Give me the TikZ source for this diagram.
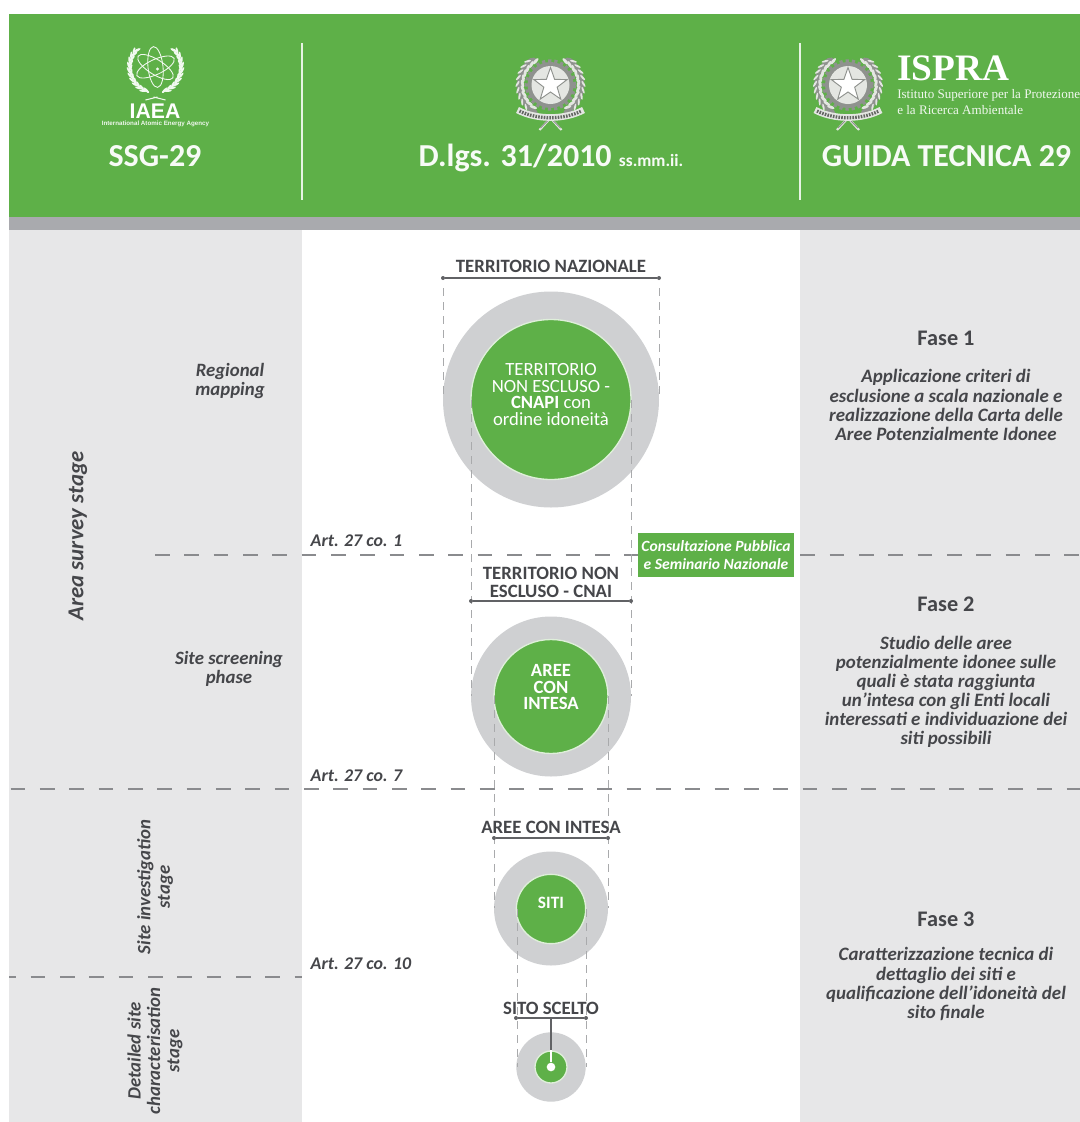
\documentclass[tikz,border=0pt]{standalone}
\usepackage{fontspec}
\usetikzlibrary{shapes.geometric}
\setmainfont{Carlito}
\newfontfamily\serif{Liberation Serif}
\newfontfamily\arial{Liberation Sans}
\definecolor{gv}{HTML}{5EB048}
\definecolor{barg}{HTML}{A9AAAE}
\definecolor{panel}{HTML}{E7E7E8}
\definecolor{ring}{HTML}{CFD0D2}
\definecolor{ink}{HTML}{45464A}
\definecolor{dash}{HTML}{8A8B8E}
\definecolor{dashl}{HTML}{A9AAAC}
\definecolor{emb}{HTML}{8F928E}
\definecolor{embl}{HTML}{E4E6E2}
\tikzset{
  outer/.style={circle,fill=ring,inner sep=0pt},
  inner/.style={circle,fill=gv,draw=white!80!gv,line width=1pt,inner sep=0pt},
  sep/.style={draw=dash,line width=1.1pt,dash pattern=on 11pt off 11pt},
  guide/.style={draw=dashl,line width=.7pt,dash pattern=on 6pt off 4.5pt},
  dim/.style={draw=ink!85,line width=1.1pt},
  dot/.style={circle,fill=ink!85,inner sep=0pt,minimum size=3pt},
  vsep/.style={draw=white!85!gv,line width=1.2pt},
  stage/.style={font=\fontsize{14.1}{14.6}\selectfont\bfseries\itshape,text=ink,align=center},
  art/.style={font=\fontsize{13.4}{14}\selectfont\bfseries\itshape,text=ink,anchor=west},
  ctitle/.style={font=\fontsize{14.1}{13.5}\selectfont\bfseries,text=ink,align=center},
  ctext/.style={text=white,align=center,inner sep=0pt},
  fase/.style={font=\fontsize{16.7}{17}\selectfont\bfseries,text=ink},
  fdesc/.style={font=\fontsize{14.2}{14.3}\selectfont\bfseries\itshape,text=ink,align=center},
  head/.style={font=\bfseries\fontsize{24}{24}\selectfont,text=white!95!gv,anchor=base,inner sep=0pt},
}
% radius, first, second, last angle, colour, half width, half length, tilt
\newcommand{\leafarc}[8]{%
  \foreach \a in {#2,#3,...,#4}{
    \fill[#5,rotate=\a,shift={(#1,0)},rotate=#8] (0,0) ellipse [x radius=#6,y radius=#7];
    \fill[#5,rotate=180-\a,shift={(#1,0)},rotate=-#8] (0,0) ellipse [x radius=#6,y radius=#7];
  }%
}
\newcommand{\emblem}[3]{% cx, cy, name
  \begin{scope}[shift={(#1,#2)},x=.75pt,y=.75pt]
    \leafarc{31}{128}{139}{238}{emb}{2.6}{5}{-18}
    \leafarc{28}{122}{133}{232}{embl}{1.5}{4}{18}
    \leafarc{33}{134}{145}{222}{embl}{1}{3.6}{-30}
    \draw[emb,line width=2.6pt,dash pattern=on 2.4pt off 2.2pt] (0,0) circle (24);
    \fill[emb] (0,0) circle (23);
    \fill[embl] (0,0) circle (19);
    \node[star,star points=5,star point ratio=2.5,minimum size=35*.75pt,inner sep=0pt,fill=white,draw=emb,line width=.7pt] (#3star) at (0,0) {};
    \draw[embl,line width=1.6pt] (0,-33) -- (-11,-45) (0,-33) -- (11,-45);
    \draw[emb,line width=.6pt] (0,-33) -- (-10,-43) (0,-33) -- (10,-43);
    \draw[embl,line width=5pt] (-33,-25) .. controls (-14,-35) and (14,-35) .. (33,-25);
    \draw[emb!70!black,line width=2.4pt,dash pattern=on 1.2pt off .9pt] (-31,-26) .. controls (-13,-35) and (13,-35) .. (31,-26);
  \end{scope}
}
\begin{document}
\begin{tikzpicture}[x=.75pt,y=-.75pt]
\useasboundingbox (0,0) rectangle (1080,1122);
\fill[white] (0,0) rectangle (1080,1122);
% bands
\fill[gv] (9,14) rectangle (1080,217);
\fill[barg] (9,217) rectangle (1080,230);
\fill[panel] (9,230) rectangle (302,1122);
\fill[panel] (800,230) rectangle (1080,1122);
\draw[vsep] (302,43) -- (302,200);
\draw[vsep] (800,43) -- (800,200);
% IAEA logo
\begin{scope}[shift={(155.5,67)},x=.75pt,y=.75pt]
  \leafarc{25}{138}{149}{255}{white!92!gv}{1.3}{4}{-22}
  \leafarc{27}{143}{154}{242}{white!92!gv}{1.1}{3.6}{22}
  \draw[white!92!gv,line width=.8pt] (-2,-30) -- (10,-33) (2,-30) -- (-10,-33);
  \foreach \r in {96,25,-32}{
    \draw[white!92!gv,line width=.65pt,rotate=\r] (0,0) ellipse [x radius=20.5,y radius=7.5];
  }
  \fill[white!92!gv] (2,-2) circle (1.6);
\end{scope}
\node[font=\arial\bfseries\fontsize{15.9}{16}\selectfont,text=white,inner sep=0pt] (iaea) at (155,111) {IAEA};
\node[font=\arial\bfseries\fontsize{4.67}{5}\selectfont,text=white!90!gv,inner sep=0pt] (iaeaname) at (155.5,124) {International Atomic Energy Agency};
\node[head] (ssg) at (155,166) {SSG-29};
% emblems
\emblem{550.5}{85}{em1}
\emblem{848}{85}{em2}
\node[head] (dlgs) at (551,166) {D.lgs. 31/2010 {\fontsize{13}{13}\selectfont ss.mm.ii.}};
\node[head] (guida) at (946.5,166) {GUIDA TECNICA 29};
\node[font=\serif\bfseries\fontsize{28}{28}\selectfont,text=white,anchor=base west,inner sep=0pt] (ispra) at (897,80) {ISPRA};
\node[font=\serif\fontsize{9.8}{11}\selectfont,text=white!90!gv,anchor=base west,inner sep=0pt] (ist1) at (897,98.5) {Istituto Superiore per la Protezione};
\node[font=\serif\fontsize{9.8}{11}\selectfont,text=white!90!gv,anchor=base west,inner sep=0pt] (ist2) at (897,114.5) {e la Ricerca Ambientale};
% separators
\coordinate (s1a) at (155,555); \coordinate (s1b) at (1080,555);
\coordinate (s2a) at (10.5,789); \coordinate (s2b) at (1080,789);
\coordinate (s3a) at (9,977); \coordinate (s3b) at (302,977);
\draw[sep] (s1a) -- (s1b);
\draw[sep] (s2a) -- (s2b);
\draw[sep,dash phase=5.7pt] (s3a) -- (s3b);
% circles
\node[outer,minimum size=162pt] (c1) at (551,399.5) {};
\node[inner,minimum size=120pt] (i1) at (551,399.5) {};
\node[ctext,font=\fontsize{14}{12.3}\selectfont] (i1t) at (551,394.5) {TERRITORIO\\NON ESCLUSO -\\\textbf{CNAPI} con\\ordine idoneità};
\node[outer,minimum size=120pt] (c2) at (551,696.5) {};
\node[inner,minimum size=85.5pt] (i2) at (551,696.5) {};
\node[ctext,font=\fontsize{14}{12.5}\selectfont\bfseries] (i2t) at (551,687) {AREE\\CON\\INTESA};
\node[outer,minimum size=85.5pt] (c3) at (551,908.5) {};
\node[inner,minimum size=52pt] (i3) at (551,909) {};
\node[ctext,font=\fontsize{13}{13}\selectfont\bfseries] (i3t) at (551,903) {SITI};
\node[outer,minimum size=52pt] (c4) at (551,1067) {};
\node[inner,minimum size=24pt] (i4) at (551,1067) {};
\node[circle,fill=white,inner sep=0pt,minimum size=6.5pt] (i4dot) at (551,1067) {};
% guides
\coordinate (g1a) at (443,288); \coordinate (g1b) at (443,400);
\coordinate (g2a) at (659,288); \coordinate (g2b) at (659,400);
\coordinate (g3a) at (471,400); \coordinate (g3b) at (471,696);
\coordinate (g4a) at (631,400); \coordinate (g4b) at (631,696);
\coordinate (g5a) at (494,696); \coordinate (g5b) at (494,908);
\coordinate (g6a) at (608,696); \coordinate (g6b) at (608,908);
\coordinate (g7a) at (517,909); \coordinate (g7b) at (517,1067);
\coordinate (g8a) at (586,909); \coordinate (g8b) at (586,1067);
\foreach \n in {1,...,8}{\draw[guide] (g\n a) -- (g\n b);}
% dimension lines
\node[dot] (d1a) at (443,278) {}; \node[dot] (d1b) at (659,278) {};
\node[dot] (d2a) at (471,601) {}; \node[dot] (d2b) at (631,601) {};
\node[dot] (d3a) at (494,838) {}; \node[dot] (d3b) at (608,838) {};
\node[dot] (d4a) at (516,1018) {}; \node[dot] (d4b) at (586,1018) {};
\draw[dim] (d1a) -- (d1b);
\draw[dim] (d2a) -- (d2b);
\draw[dim] (d3a) -- (d3b);
\draw[dim] (d4a) -- (d4b);
\coordinate (stem) at (551,1018);
\coordinate (stemm) at (551,1050);
\draw[ink!85,line width=1.5pt] (stem) -- (stemm);
\draw[white,line width=1.5pt] (stemm) -- (i4dot);
\node[ctitle] (t1) at (551,266.5) {TERRITORIO NAZIONALE};
\node[ctitle] (t2) at (551,582) {TERRITORIO NON\\ESCLUSO - CNAI};
\node[ctitle] (t3) at (551,827) {AREE CON INTESA};
\node[ctitle] (t4) at (551,1008) {SITO SCELTO};
% green box
\node[fill=gv,minimum width=117pt,minimum height=32.5pt,inner sep=0pt,text=white,align=center,font=\fontsize{11.7}{13.5}\selectfont\bfseries\itshape] (pub) at (716,555) {Consultazione Pubblica\\e Seminario Nazionale};
% left labels
\node[stage] (l1) at (230,381) {Regional\\mapping};
\node[stage] (l2) at (229,669) {Site screening\\phase};
\node[stage,rotate=90,font=\fontsize{17.1}{17}\selectfont\bfseries\itshape] (l3) at (78,536) {Area survey stage};
\node[stage,rotate=90] (l4) at (155,887) {Site investigation\\stage};
\node[stage,rotate=90] (l5) at (155,1051) {Detailed site\\characterisation\\stage};
\node[art] (a1) at (306,541) {Art. 27 co. 1};
\node[art] (a2) at (306,776) {Art. 27 co. 7};
\node[art] (a3) at (306,964) {Art. 27 co. 10};
% right labels
\node[fase] (f1) at (946,338) {Fase 1};
\node[fdesc] (fd1) at (946,405) {Applicazione criteri di\\esclusione a scala nazionale e\\realizzazione della Carta delle\\Aree Potenzialmente Idonee};
\node[fase] (f2) at (946,604) {Fase 2};
\node[fdesc] (fd2) at (946,692) {Studio delle aree\\potenzialmente idonee sulle\\quali è stata raggiunta\\un’intesa con gli Enti locali\\interessati  e individuazione dei\\siti possibili};
\node[fase] (f3) at (946,919) {Fase 3};
\node[fdesc] (fd3) at (946,984) {Caratterizzazione tecnica di\\dettaglio dei siti e\\qualificazione dell’idoneità del\\sito finale};
\end{tikzpicture}
\end{document}
